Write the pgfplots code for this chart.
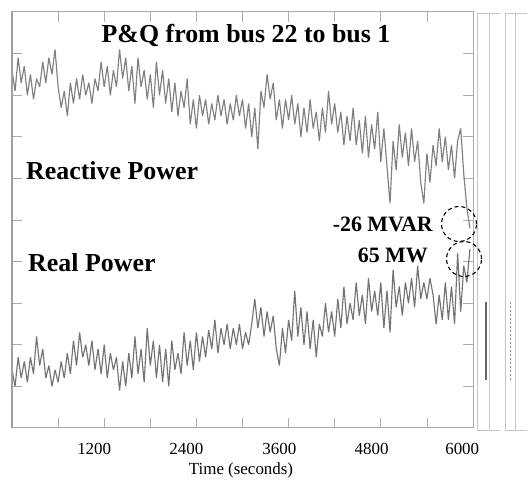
\documentclass[border=0pt]{standalone}
\usepackage{pgfplots}
\pgfplotsset{compat=1.18}
\usepackage{pgfplotstable}
\usepackage{fontspec}
\setmainfont{Liberation Serif}

% Reactive power, one sample every 40 s (axis units, 0-10 scale)
\pgfplotstableread[row sep=\\]{q\\
8.6\\ 8.1\\ 8.9\\ 8.3\\ 8.7\\ 8.0\\ 8.5\\ 7.9\\ 8.4\\ 8.2\\
8.8\\ 8.3\\ 8.9\\ 8.5\\ 9.1\\ 8.2\\ 7.7\\ 8.1\\ 7.5\\ 8.3\\
7.8\\ 8.4\\ 7.9\\ 8.5\\ 8.0\\ 8.3\\ 7.8\\ 8.4\\ 8.1\\ 8.8\\
8.2\\ 8.7\\ 8.0\\ 8.6\\ 8.2\\ 9.1\\ 8.4\\ 8.9\\ 8.1\\ 8.7\\
7.8\\ 8.9\\ 8.2\\ 8.6\\ 7.9\\ 8.5\\ 7.7\\ 8.8\\ 8.0\\ 8.6\\
7.8\\ 8.4\\ 7.6\\ 8.3\\ 7.5\\ 8.1\\ 7.7\\ 8.4\\ 7.3\\ 7.9\\
7.2\\ 8.0\\ 7.5\\ 7.9\\ 7.3\\ 7.8\\ 7.4\\ 8.0\\ 7.5\\ 7.9\\
7.3\\ 7.8\\ 7.4\\ 8.0\\ 7.5\\ 7.9\\ 7.2\\ 7.8\\ 7.0\\ 7.7\\
6.7\\ 8.1\\ 7.7\\ 8.5\\ 7.9\\ 8.3\\ 7.4\\ 7.9\\ 7.2\\ 7.9\\
7.4\\ 8.0\\ 7.3\\ 7.8\\ 7.0\\ 7.7\\ 7.1\\ 7.9\\ 7.2\\ 7.6\\
6.9\\ 7.7\\ 7.1\\ 8.1\\ 7.3\\ 7.8\\ 7.1\\ 7.6\\ 6.8\\ 7.5\\
6.9\\ 7.7\\ 6.8\\ 7.4\\ 6.6\\ 7.5\\ 6.5\\ 7.3\\ 6.7\\ 7.6\\
6.4\\ 7.2\\ 6.3\\ 5.4\\ 6.9\\ 6.2\\ 7.3\\ 6.5\\ 7.1\\ 6.3\\
7.2\\ 6.4\\ 6.9\\ 5.9\\ 5.4\\ 6.6\\ 5.9\\ 6.8\\ 6.3\\ 7.2\\
6.4\\ 7.0\\ 6.2\\ 6.8\\ 6.0\\ 6.9\\ 7.2\\ 6.1\\ 5.3\\ 4.8\\
}\reactive

% Real power, one sample every 40 s (axis units, 0-10 scale)
\pgfplotstableread[row sep=\\]{p\\
1.4\\ 1.0\\ 1.7\\ 1.2\\ 1.6\\ 1.1\\ 1.7\\ 1.3\\ 2.2\\ 1.5\\
1.9\\ 1.2\\ 1.5\\ 1.0\\ 1.4\\ 1.1\\ 1.6\\ 1.2\\ 1.8\\ 1.3\\
2.1\\ 1.5\\ 2.3\\ 1.7\\ 2.0\\ 1.5\\ 2.1\\ 1.4\\ 1.9\\ 1.3\\
2.0\\ 1.2\\ 1.8\\ 1.4\\ 1.7\\ 0.9\\ 1.6\\ 1.0\\ 1.8\\ 1.2\\
2.2\\ 1.3\\ 1.9\\ 1.1\\ 2.4\\ 1.5\\ 2.1\\ 1.2\\ 2.0\\ 1.1\\
1.9\\ 1.0\\ 2.1\\ 1.4\\ 1.8\\ 1.3\\ 2.3\\ 1.5\\ 2.1\\ 1.4\\
2.3\\ 1.6\\ 2.2\\ 1.7\\ 2.35\\ 1.9\\ 2.6\\ 1.8\\ 2.4\\ 2.0\\
2.5\\ 1.9\\ 2.4\\ 2.0\\ 2.5\\ 1.9\\ 2.3\\ 2.0\\ 2.5\\ 3.1\\
2.4\\ 2.9\\ 2.2\\ 2.8\\ 2.3\\ 2.7\\ 1.9\\ 1.5\\ 2.4\\ 1.8\\
2.6\\ 2.1\\ 3.3\\ 2.2\\ 2.9\\ 2.0\\ 2.8\\ 1.9\\ 2.6\\ 1.7\\
2.5\\ 2.2\\ 3.0\\ 2.3\\ 2.8\\ 2.2\\ 3.1\\ 2.4\\ 3.4\\ 2.5\\
3.0\\ 2.6\\ 3.5\\ 2.7\\ 3.2\\ 2.5\\ 3.6\\ 2.8\\ 3.3\\ 2.7\\
3.5\\ 2.4\\ 3.3\\ 2.3\\ 3.8\\ 2.9\\ 3.4\\ 2.7\\ 3.5\\ 3.0\\
3.6\\ 2.9\\ 3.9\\ 3.1\\ 3.5\\ 3.1\\ 3.6\\ 3.2\\ 2.5\\ 3.2\\
2.6\\ 3.5\\ 2.6\\ 3.4\\ 2.5\\ 4.2\\ 2.8\\ 3.9\\ 3.5\\ 4.3\\
}\real

\begin{document}
\begin{tikzpicture}
\path[use as bounding box] (-12bp,-53bp) rectangle (517bp,428bp);
\begin{axis}[
  at={(0,0)}, anchor=south west,
  scale only axis, width=461bp, height=416bp,
  xmin=0, xmax=6000, ymin=0, ymax=10,
  xtick={600,1200,...,5400}, xticklabels={},
  extra x ticks={1070,2270,3480,4680,5860},
  extra x tick labels={1200,2400,3600,4800,6000},
  extra x tick style={major tick length=0pt},
  ytick={1,2,...,9}, yticklabels={},
  tick align=inside, major tick length=10bp,
  every tick/.style={gray!65, line width=0.8bp},
  axis line style={gray!65, line width=1bp},
  tick label style={font=\fontsize{17}{20}\selectfont},
  xticklabel style={yshift=-12bp},
  clip=false,
]
\addplot[draw=black!50, line width=1.15bp, line join=bevel]
  table[x expr=\coordindex*40, y=q] {\reactive};
\addplot[draw=black!55, line width=1.15bp, line join=bevel]
  table[x expr=\coordindex*40, y=p] {\real};
\end{axis}
\draw[gray!75, line width=1.3bp] (0,0) -- (0,416bp);
% right-hand scan panels
\begin{scope}[gray!45, line width=0.8bp]
  \draw (465bp,-2bp) -- (465bp,415bp);
  \draw (477bp,-2bp) -- (477bp,415bp);
  \draw (465bp,415bp) -- (488bp,415bp);
  \draw (465bp,-2bp) -- (488bp,-2bp);
  \draw (493bp,-2bp) -- (493bp,415bp);
  \draw (503bp,-2bp) -- (503bp,415bp);
  \draw (493bp,415bp) -- (515bp,415bp);
  \draw (493bp,-2bp) -- (515bp,-2bp);
\end{scope}
\draw[black!60, line width=1.2bp] (474bp,48bp) -- (474bp,126bp);
\draw[black!45, line width=0.8bp, dash pattern=on 1.5bp off 2.5bp] (498bp,48bp) -- (498bp,126bp);
% texts
\node[anchor=base, font=\fontsize{26}{30}\selectfont\bfseries, inner sep=0pt] at (234bp,385bp) {P\&Q from bus 22 to bus 1};
\node[anchor=base west, font=\fontsize{26}{30}\selectfont\bfseries, inner sep=0pt] at (14bp,248bp) {Reactive Power};
\node[anchor=base west, font=\fontsize{26}{30}\selectfont\bfseries, inner sep=0pt] at (16bp,156bp) {Real Power};
\node[anchor=base east, font=\fontsize{22}{26}\selectfont\bfseries, inner sep=0pt] at (421bp,196bp) {-26 MVAR};
\node[anchor=base east, font=\fontsize{22}{26}\selectfont\bfseries, inner sep=0pt] at (416bp,165bp) {65 MW};
\draw[black, line width=1.1bp, dash pattern=on 4bp off 3bp] (447bp,204bp) circle (17.5bp);
\draw[black, line width=1.1bp, dash pattern=on 4bp off 3bp] (452bp,169bp) circle (17.5bp);
\node[anchor=base, font=\fontsize{17}{20}\selectfont, inner sep=0pt] at (229bp,-46bp) {Time (seconds)};
\end{tikzpicture}
\end{document}
